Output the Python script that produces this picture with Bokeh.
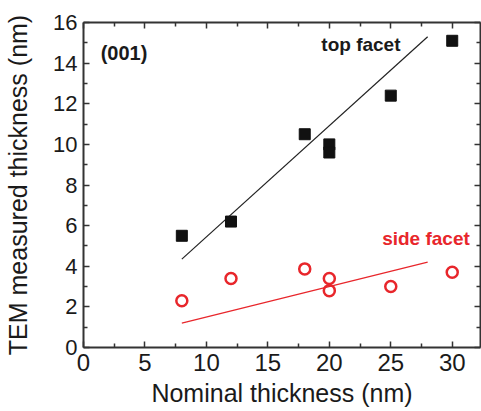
from bokeh.plotting import figure
from bokeh.models import Range1d, LinearAxis, Label, FixedTicker
from bokeh.embed import file_html
from bokeh.resources import INLINE

# data
nominal_top = [8, 12, 18, 20, 20, 25, 30]
tem_top = [5.5, 6.2, 10.5, 10.0, 9.6, 12.4, 15.1]
nominal_side = [8, 12, 18, 20, 20, 25, 30]
tem_side = [2.3, 3.4, 3.87, 3.4, 2.8, 3.0, 3.7]
fit_x = [8, 28]
fit_top = [4.35, 15.3]
fit_side = [1.2, 4.2]

x_ticks = [0, 5, 10, 15, 20, 25, 30]
y_ticks = [0, 2, 4, 6, 8, 10, 12, 14, 16]
x_minor = [2.5, 7.5, 12.5, 17.5, 22.5, 27.5, 32.5]
y_minor = [1, 3, 5, 7, 9, 11, 13, 15]

FONT = "Liberation Sans"
AX = "#333333"
TXT = "#1a1a1a"
RED = "#e8262b"

p = figure(width=481, height=411, output_backend="svg", toolbar_location=None,
           x_range=Range1d(0, 32.3), y_range=Range1d(0, 16),
           min_border_left=83, min_border_top=22, min_border_bottom=64, min_border_right=1,
           x_axis_label="Nominal thickness (nm)", y_axis_label="TEM measured thickness (nm)")
p.grid.visible = False
p.outline_line_color = None
p.background_fill_color = "white"
p.border_fill_color = "white"

def style(ax, labels=True):
    ax.axis_line_color = AX
    ax.axis_line_width = 2
    ax.major_tick_in = 6
    ax.major_tick_out = 0
    ax.minor_tick_in = 4
    ax.minor_tick_out = 0
    ax.major_tick_line_color = AX
    ax.minor_tick_line_color = AX
    ax.major_tick_line_width = 1.5
    ax.minor_tick_line_width = 1.5
    ax.major_label_text_font = FONT
    ax.major_label_text_color = TXT
    ax.axis_label_text_font = FONT
    ax.axis_label_text_font_style = "normal"
    ax.axis_label_text_color = TXT
    if not labels:
        ax.major_label_text_font_size = "0px"
        ax.major_label_text_color = None

for ax in p.xaxis:
    ax.ticker = FixedTicker(ticks=x_ticks, minor_ticks=x_minor)
    style(ax)
    ax.major_label_text_font_size = "24px"
    ax.major_label_standoff = 6
    ax.axis_label_text_font_size = "25px"
    ax.axis_label_standoff = 5
for ax in p.yaxis:
    ax.ticker = FixedTicker(ticks=y_ticks, minor_ticks=y_minor)
    style(ax)
    ax.major_label_text_font_size = "22px"
    ax.major_label_standoff = 6
    ax.axis_label_text_font_size = "25px"
    ax.axis_label_standoff = 18

top = LinearAxis(ticker=FixedTicker(ticks=x_ticks, minor_ticks=x_minor))
style(top, labels=False)
right = LinearAxis(ticker=FixedTicker(ticks=y_ticks, minor_ticks=y_minor))
style(right, labels=False)
p.add_layout(top, "above")
p.add_layout(right, "right")

p.line(fit_x, fit_top, line_color="#222222", line_width=1.2)
p.line(fit_x, fit_side, line_color=RED, line_width=1.2)
p.scatter(nominal_top, tem_top, marker="square", size=11, fill_color="#111111", line_color="#111111")
p.scatter(nominal_side, tem_side, marker="circle", size=11, fill_color=None, line_color=RED, line_width=2.5)

p.add_layout(Label(x=1.4, y=14.5, text="(001)", text_font=FONT, text_font_size="20px",
                   text_font_style="bold", text_color=TXT, text_baseline="middle"))
p.add_layout(Label(x=19.35, y=14.9, text="top facet", text_font=FONT, text_font_size="19px",
                   text_font_style="bold", text_color=TXT, text_baseline="middle"))
p.add_layout(Label(x=24.3, y=5.35, text="side facet", text_font=FONT, text_font_size="19px",
                   text_font_style="bold", text_color=RED, text_baseline="middle"))

open("out.html", "w").write(file_html(p, INLINE))
